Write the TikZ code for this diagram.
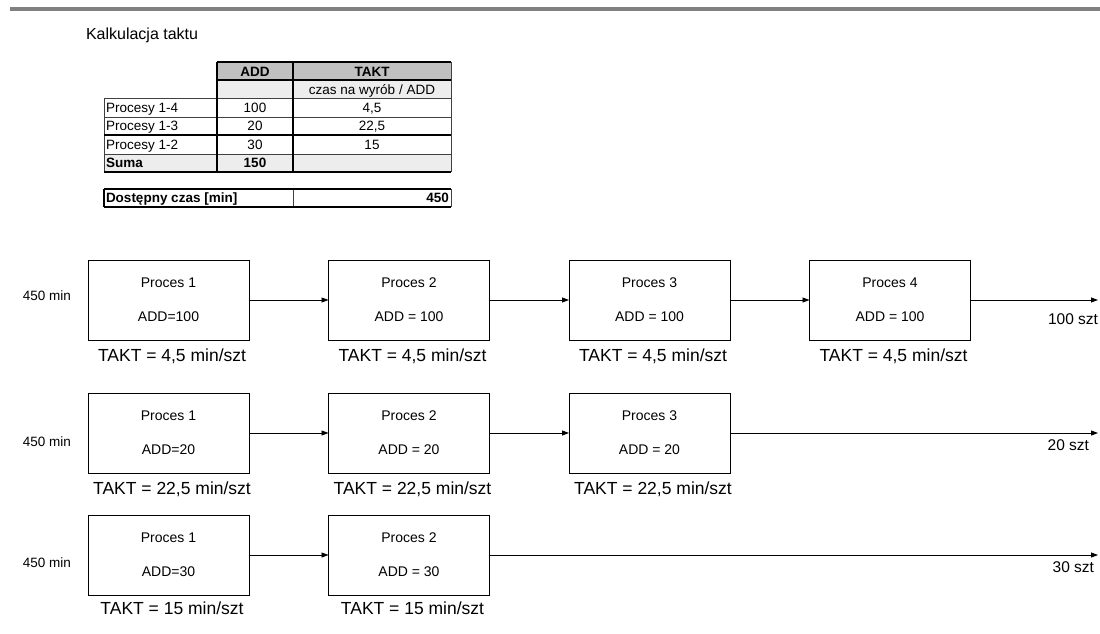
\documentclass[tikz,border=0pt]{standalone}
\usepackage{fontspec}
\setmainfont{Liberation Sans}
\usetikzlibrary{arrows.meta,positioning}
\definecolor{bargray}{HTML}{808080}
\definecolor{hdrgray}{HTML}{C0C0C0}
\definecolor{subgray}{HTML}{EDEDED}

\begin{document}
\begin{tikzpicture}[
  x=1pt, y=-1pt,
  every node/.style={inner sep=0pt, outer sep=0pt},
  proc/.style={draw, line width=0.9pt, minimum width=161pt, minimum height=80pt, align=center, font=\fontsize{14}{34}\selectfont},
  takt/.style={font=\fontsize{17.5}{20}\selectfont},
  side/.style={font=\fontsize{13.5}{16}\selectfont},
  szt/.style={font=\fontsize{15.5}{18}\selectfont},
  cell/.style={font=\fontsize{13.5}{16}\selectfont},
  bcell/.style={font=\fontsize{13.5}{16}\selectfont\bfseries},
  gridthin/.style={line width=0.8pt, black!75},
  gridthick/.style={line width=1.7pt, black},
  arr/.style={-{Triangle[length=7pt, width=5pt]}, line width=0.8pt},
]
  \useasboundingbox (0,0) rectangle (1100,633);
  \fill[bargray] (10,7) rectangle (1100,11);

  \node[anchor=base west, font=\fontsize{16}{19}\selectfont] (title) at (86,39.5) {Kalkulacja taktu};

  % table
  \fill[hdrgray] (217,62) rectangle (451,80);
  \fill[subgray] (217,80) rectangle (451,98);
  \fill[subgray] (104,154) rectangle (451,172);
  \draw[gridthin] (104,98) -- (451,98) (104,117) -- (451,117) (104,154) -- (451,154);
  \draw[gridthin] (451,62) -- (451,172) (104,98) -- (104,172);
  \draw[gridthick] (217,62) -- (451,62) (217,80) -- (451,80) (104,135) -- (451,135) (104,172) -- (451,172);
  \draw[gridthick] (217,62) -- (217,172) (293,62) -- (293,172);

  \node[bcell, anchor=base] (hadd) at (255,76) {ADD};
  \node[bcell, anchor=base] (htakt) at (372,76) {TAKT};
  \node[cell, anchor=base] (hsub) at (372,94) {czas na wyrób / ADD};
  \node[cell, anchor=base west] (r1) at (106,112.3) {Procesy 1-4};
  \node[cell, anchor=base] (a1) at (255,112.3) {100};
  \node[cell, anchor=base] (k1) at (372,112.3) {4,5};
  \node[cell, anchor=base west] (r2) at (106,130.8) {Procesy 1-3};
  \node[cell, anchor=base] (a2) at (255,130.8) {20};
  \node[cell, anchor=base] (k2) at (372,130.8) {22,5};
  \node[cell, anchor=base west] (r3) at (106,149.3) {Procesy 1-2};
  \node[cell, anchor=base] (a3) at (255,149.3) {30};
  \node[cell, anchor=base] (k3) at (372,149.3) {15};
  \node[bcell, anchor=base west] (rs) at (106,167.8) {Suma};
  \node[bcell, anchor=base] (as) at (255,167.8) {150};

  \draw[gridthin] (293,189) -- (293,207) (451,189) -- (451,207);
  \draw[gridthick] (104,189) -- (451,189) (104,207) -- (451,207) (104,189) -- (104,207);
  \node[bcell, anchor=base west] (dost) at (106,202.8) {Dostępny czas [min]};
  \node[bcell, anchor=base east] (dval) at (449,202.8) {450};

  % row 1
  \node[side] (in1) at (47,296) {450 min};
  \node[proc] (p11) at (168.5,300) {Proces 1\\ADD=100};
  \node[proc, right=79.5pt of p11] (p12) {Proces 2\\ADD = 100};
  \node[proc, right=79.5pt of p12] (p13) {Proces 3\\ADD = 100};
  \node[proc, right=79.5pt of p13] (p14) {Proces 4\\ADD = 100};
  \coordinate (e1) at (1098,300);
  \draw[arr] (p11) -- (p12);
  \draw[arr] (p12) -- (p13);
  \draw[arr] (p13) -- (p14);
  \draw[arr] (p14) -- (e1);
  \node[szt, anchor=east] (s1) at (1098,319) {100 szt};
  \node[takt, below=8.5pt of p11, xshift=3.5pt] (t11) {TAKT = 4,5 min/szt};
  \node[takt, below=8.5pt of p12, xshift=3.5pt] (t12) {TAKT = 4,5 min/szt};
  \node[takt, below=8.5pt of p13, xshift=3.5pt] (t13) {TAKT = 4,5 min/szt};
  \node[takt, below=8.5pt of p14, xshift=3.5pt] (t14) {TAKT = 4,5 min/szt};

  % row 2
  \node[side] (in2) at (47,442) {450 min};
  \node[proc] (p21) at (168.5,433) {Proces 1\\ADD=20};
  \node[proc, right=79.5pt of p21] (p22) {Proces 2\\ADD = 20};
  \node[proc, right=79.5pt of p22] (p23) {Proces 3\\ADD = 20};
  \coordinate (e2) at (1098,433);
  \draw[arr] (p21) -- (p22);
  \draw[arr] (p22) -- (p23);
  \draw[arr] (p23) -- (e2);
  \node[szt, anchor=east] (s2) at (1089,445) {20 szt};
  \node[takt, below=8.5pt of p21, xshift=3.5pt] (t21) {TAKT = 22,5 min/szt};
  \node[takt, below=8.5pt of p22, xshift=3.5pt] (t22) {TAKT = 22,5 min/szt};
  \node[takt, below=8.5pt of p23, xshift=3.5pt] (t23) {TAKT = 22,5 min/szt};

  % row 3
  \node[side] (in3) at (47,563) {450 min};
  \node[proc] (p31) at (168.5,555) {Proces 1\\ADD=30};
  \node[proc, right=79.5pt of p31] (p32) {Proces 2\\ADD = 30};
  \coordinate (e3) at (1098,555);
  \draw[arr] (p31) -- (p32);
  \draw[arr] (p32) -- (e3);
  \node[szt, anchor=east] (s3) at (1094,567) {30 szt};
  \node[takt, below=7pt of p31, xshift=3.5pt] (t31) {TAKT = 15 min/szt};
  \node[takt, below=7pt of p32, xshift=3.5pt] (t32) {TAKT = 15 min/szt};
\end{tikzpicture}
\end{document}
